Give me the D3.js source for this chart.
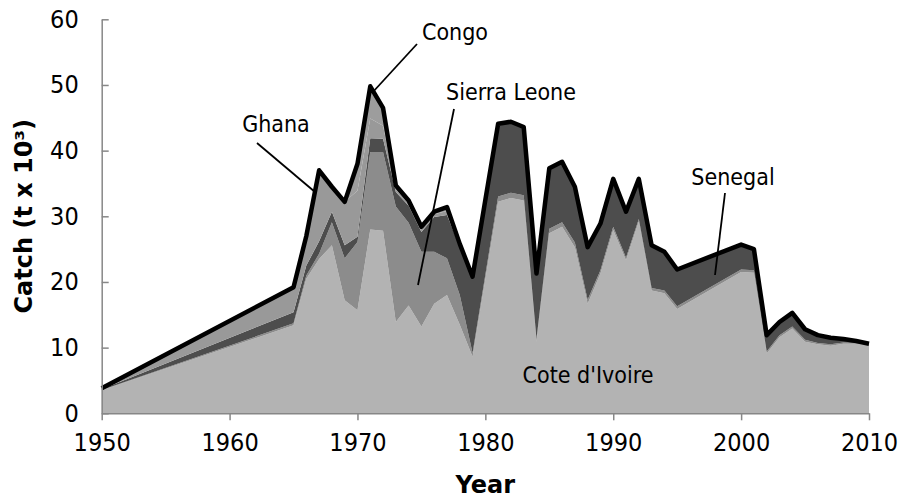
<!DOCTYPE html>
<html>
<head>
<meta charset="utf-8">
<script src="https://cdn.jsdelivr.net/npm/d3@7"></script>
<style>
  body { margin: 0; background: #fff; }
  text { font-family: "DejaVu Sans Condensed", "DejaVu Sans", sans-serif; }
</style>
</head>
<body>
<div id="chart"></div>
<script>
// Catch by country, stacked (t x 10^3)
var years = [1950, 1965, 1966, 1967, 1968, 1969, 1970, 1971, 1972, 1973, 1974,
    1975, 1976, 1977, 1978, 1979, 1980, 1981, 1982, 1983, 1984, 1985, 1986,
    1987, 1988, 1989, 1990, 1991, 1992, 1993, 1994, 1995, 2000, 2001, 2002,
    2003, 2004, 2005, 2006, 2007, 2008, 2009, 2010];

var coteDIvoire = [3.5, 13.4, 20.5, 23.5, 25.6, 17.2, 15.7, 28.0, 27.8, 13.9, 16.4,
    13.2, 16.7, 18.0, 13.5, 8.6, 20.4, 32.2, 32.8, 32.4, 10.9, 27.4, 28.4,
    25.3, 16.7, 21.3, 27.9, 23.3, 29.2, 18.7, 18.3, 15.9, 21.5, 21.4, 9.1,
    11.6, 12.9, 10.9, 10.5, 10.3, 10.6, 10.6, 10.4];

var sierraLeone = [0.05, 0.3, 0.5, 0.8, 3.5, 6.4, 10.4, 11.8, 12.0, 17.6, 12.6,
    11.4, 7.9, 5.6, 4.5, 0.6, 0.7, 0.8, 0.8, 0.8, 0.4, 0.7, 0.7,
    0.7, 0.6, 0.5, 0.5, 0.4, 0.4, 0.4, 0.4, 0.4, 0.4, 0.4, 0.3,
    0.3, 0.3, 0.3, 0.2, 0.2, 0.2, 0.1, 0.1];

var senegal = [0.1, 1.7, 1.5, 1.9, 1.6, 2.0, 0.8, 2.1, 2.0, 2.2, 2.6,
    3.0, 5.3, 6.6, 7.3, 11.4, 11.4, 11.1, 10.8, 10.4, 10.0, 9.2, 9.2,
    8.5, 8.0, 7.1, 7.3, 7.0, 6.1, 6.5, 5.9, 5.6, 3.8, 3.2, 2.5,
    2.0, 2.1, 1.6, 1.2, 1.0, 0.5, 0.3, 0.1];

var ghana = [0.15, 3.8, 4.5, 10.8, 3.8, 6.6, 7.0, 3.0, 2.0, 0.4, 0.3,
    0.4, 0.4, 0.6, 0.3, 0.1, 0, 0, 0, 0, 0, 0, 0,
    0, 0, 0, 0, 0, 0, 0, 0, 0, 0, 0, 0,
    0, 0, 0, 0, 0, 0, 0, 0];

var congo = [0, 0, 0, 0, 0, 0, 4.1, 4.9, 2.7, 0.6, 0.5,
    0.4, 0.4, 0.6, 0.2, 0.1, 0, 0, 0, 0, 0, 0, 0,
    0, 0, 0, 0, 0, 0, 0, 0, 0, 0, 0, 0,
    0, 0, 0, 0, 0, 0, 0, 0];

var seriesNames = ["Cote d'Ivoire", "Sierra Leone", "Senegal", "Ghana", "Congo"];
var seriesFill = ["#b3b3b3", "#8c8c8c", "#4d4d4d", "#999999", "#9d9d9d"];
var yTicks = [0, 10, 20, 30, 40, 50, 60];
var xTicks = [1950, 1960, 1970, 1980, 1990, 2000, 2010];

// table for d3.stack
var table = years.map(function (yr, i) {
    return {
        year: yr,
        "Cote d'Ivoire": coteDIvoire[i],
        "Sierra Leone": sierraLeone[i],
        "Senegal": senegal[i],
        "Ghana": ghana[i],
        "Congo": congo[i]
    };
});

var width = 901, height = 501;
var svg = d3.select("#chart").append("svg")
    .attr("width", width)
    .attr("height", height);

var x = d3.scaleLinear().domain([1950, 2010]).range([101.7, 869]);
var y = d3.scaleLinear().domain([0, 60]).range([413.3, 19.3]);
var color = d3.scaleOrdinal().domain(seriesNames).range(seriesFill);

var stacked = d3.stack().keys(seriesNames)(table);

var area = d3.area()
    .x(function (d) { return x(d.data.year); })
    .y0(function (d) { return y(d[0]); })
    .y1(function (d) { return y(d[1]); });

svg.append("g").selectAll("path")
    .data(stacked)
    .enter()
    .append("path")
    .attr("d", area)
    .attr("fill", function (d) { return color(d.key); });

// total outline
var totalLine = d3.line()
    .x(function (d) { return x(d.data.year); })
    .y(function (d) { return y(d[1]); });

svg.append("path")
    .datum(stacked[stacked.length - 1])
    .attr("d", totalLine)
    .attr("fill", "none")
    .attr("stroke", "#000")
    .attr("stroke-width", 4.5)
    .attr("stroke-linejoin", "round");

// axes
var xAxis = svg.append("g")
    .attr("transform", "translate(0," + y(0) + ")")
    .call(d3.axisBottom(x).tickValues(xTicks).tickFormat(d3.format("d"))
        .tickSizeInner(7).tickSizeOuter(0).tickPadding(13));

var yAxis = svg.append("g")
    .attr("transform", "translate(" + x(1950) + ",0)")
    .call(d3.axisLeft(y).tickValues(yTicks)
        .tickSizeInner(-7).tickSizeOuter(0).tickPadding(23));

[xAxis, yAxis].forEach(function (g) {
    g.select(".domain").attr("stroke", "#878787").attr("stroke-width", 1.5);
    g.selectAll(".tick line").attr("stroke", "#878787").attr("stroke-width", 1.5);
    g.selectAll(".tick text")
        .attr("fill", "#000")
        .style("font-size", "25px")
        .style("font-family", "'DejaVu Sans Condensed', 'DejaVu Sans', sans-serif");
});

// axis titles
svg.append("text")
    .attr("x", (x(1950) + x(2010)) / 2)
    .attr("y", 493)
    .attr("text-anchor", "middle")
    .style("font-family", "'DejaVu Sans', sans-serif")
    .style("font-size", "24px")
    .style("font-weight", "bold")
    .text("Year");

svg.append("text")
    .attr("transform", "translate(32," + (y(0) + y(60)) / 2 + ") rotate(-90)")
    .attr("text-anchor", "middle")
    .style("font-family", "'DejaVu Sans', sans-serif")
    .style("font-size", "24px")
    .style("font-weight", "bold")
    .text("Catch (t x 10³)");

// country labels with leader lines
var labels = [
    { name: "Congo", tx: 455, ty: 40, x1: 417, y1: 44, x2: 372, y2: 93 },
    { name: "Ghana", tx: 276, ty: 132, x1: 257, y1: 143, x2: 315, y2: 192 },
    { name: "Sierra Leone", tx: 511, ty: 100, x1: 454, y1: 109, x2: 418, y2: 285 },
    { name: "Senegal", tx: 733, ty: 185, x1: 725, y1: 193, x2: 715, y2: 275 },
    { name: "Cote d'Ivoire", tx: 588, ty: 383, x1: null }
];

labels.forEach(function (l) {
    if (l.x1 !== null) {
        svg.append("line")
            .attr("x1", l.x1).attr("y1", l.y1)
            .attr("x2", l.x2).attr("y2", l.y2)
            .attr("stroke", "#000")
            .attr("stroke-width", 1.8);
    }
    svg.append("text")
        .attr("x", l.tx)
        .attr("y", l.ty)
        .attr("text-anchor", "middle")
        .style("font-size", "23px")
        .text(l.name);
});
</script>
</body>
</html>
